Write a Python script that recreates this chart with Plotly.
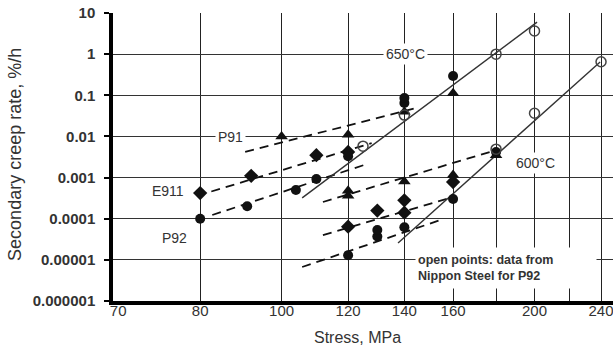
import math
import plotly.graph_objects as go

# Secondary creep rate (%/h) versus stress (MPa)
# P91 (triangles)
p91_650_stress = [100, 120, 140, 160]
p91_650_rate = [0.010, 0.011, 0.040, 0.112]
p91_600_stress = [120, 120, 140, 160, 180]
p91_600_rate = [0.00048, 0.00036, 0.00080, 0.00115, 0.0035]

# E911 (diamonds)
e911_650_stress = [80, 92, 110, 120]
e911_650_rate = [0.00042, 0.0011, 0.0035, 0.0042]
e911_600_stress = [120, 130, 140, 140, 160]
e911_600_rate = [0.000064, 0.000158, 0.00028, 0.00014, 0.00078]

# P92 (filled circles)
p92_650_stress = [80, 91, 104, 110, 120, 140, 140, 160]
p92_650_rate = [0.0001, 0.0002, 0.0005, 0.00092, 0.0033, 0.065, 0.086, 0.294]
p92_600_stress = [120, 130, 130, 140, 160, 180]
p92_600_rate = [0.000013, 0.000037, 0.000053, 0.000062, 0.0003, 0.0042]

# P92, Nippon Steel (open circles)
nippon_650_stress = [125, 140, 180, 200]
nippon_650_rate = [0.0058, 0.033, 1.0, 3.65]
nippon_600_stress = [180, 200, 240]
nippon_600_rate = [0.0049, 0.0365, 0.655]

# Trend lines: (stress at ends), (rate at ends)
trend_dashed = {
    "P91 650": ([90.5, 145], [0.0042, 0.05]),
    "E911 650": ([79.3, 128], [0.00036, 0.0069]),
    "P92 650": ([82.7, 126.4], [0.000123, 0.00214]),
    "P91 600": ([112, 177], [0.000255, 0.0042]),
    "E911 600": ([112, 158.6], [0.00004, 0.00032]),
    "P92 600": ([105.8, 155.7], [0.0000067, 0.000098]),
}
trend_solid = {
    "Nippon 650": ([105.8, 201.4], [0.00032, 6.0]),
    "Nippon 600": ([137.6, 239.4], [0.0000256, 0.644]),
}

# Axis ticks
x_grid = [80, 100, 120, 140, 160, 180, 200, 220, 240]
x_tick_vals = [63.9, 80, 100, 120, 140, 160, 200, 240]
x_tick_text = ["70", "80", "100", "120", "140", "160", "200", "240"]
y_tick_vals = [1e-6, 1e-5, 1e-4, 1e-3, 1e-2, 1e-1, 1, 10]
y_tick_text = ["0.000001", "0.00001", "0.0001", "0.001", "0.01", "0.1", "1", "10"]

FONT = "Liberation Sans, Arial, sans-serif"
INK = "#111111"

fig = go.Figure()

for name, (s, r) in trend_dashed.items():
    fig.add_trace(go.Scatter(x=s, y=r, mode="lines", name=name,
                             line=dict(color=INK, width=1.8, dash="9px,6px")))
for name, (s, r) in trend_solid.items():
    fig.add_trace(go.Scatter(x=s, y=r, mode="lines", name=name,
                             line=dict(color="#333333", width=1.4)))

def add_points(s, r, symbol, size, name):
    fig.add_trace(go.Scatter(x=s, y=r, mode="markers", name=name,
                             marker=dict(symbol=symbol, size=size, color=INK,
                                         line=dict(width=0))))

add_points(p91_650_stress, p91_650_rate, "triangle-up", 11, "P91 650")
add_points(p91_600_stress, p91_600_rate, "triangle-up", 11, "P91 600")
add_points(e911_650_stress, e911_650_rate, "diamond", 11, "E911 650")
add_points(e911_600_stress, e911_600_rate, "diamond", 11, "E911 600")
add_points(p92_650_stress, p92_650_rate, "circle", 10, "P92 650")
add_points(p92_600_stress, p92_600_rate, "circle", 10, "P92 600")

for s, r, name in [(nippon_650_stress, nippon_650_rate, "Nippon 650"),
                   (nippon_600_stress, nippon_600_rate, "Nippon 600")]:
    fig.add_trace(go.Scatter(x=s, y=r, mode="markers", name=name,
                             marker=dict(symbol="circle-open", size=10,
                                         color="#444444", line=dict(width=1.5))))

def label(text, stress, rate, size=14, **kw):
    fig.add_annotation(x=math.log10(stress), y=math.log10(rate), text=text,
                       showarrow=False, bgcolor="white", borderpad=2,
                       font=dict(family=FONT, size=size, color="#333333"), **kw)

label("P91", 87.0, 0.0097)
label("E911", 73.3, 0.00047)
label("P92", 74.5, 0.000034)
label("650°C", 140.4, 1.0)
label("600°C", 200.3, 0.00226)
fig.add_annotation(x=math.log10(144.2), y=math.log10(0.0000065),
                   xanchor="left", yanchor="middle", width=176, height=36,
                   align="left", valign="middle", showarrow=False,
                   bgcolor="white", borderpad=2,
                   text="open points: data from<br>Nippon Steel for P92",
                   font=dict(family=FONT, size=12.5, color="#333333", weight="bold"))

fig.add_annotation(xref="paper", yref="paper", x=0.489, y=-0.128,
                   xanchor="center", yanchor="middle",
                   text="Stress, MPa", showarrow=False,
                   font=dict(family=FONT, size=16, color="#333333"))
fig.add_annotation(xref="paper", yref="paper", x=-0.195, y=0.509, textangle=-90,
                   xanchor="center", yanchor="middle",
                   text="Secondary creep rate, %/h", showarrow=False,
                   font=dict(family=FONT, size=18, color="#333333"))

fig.update_layout(
    width=613, height=351,
    margin=dict(l=113, r=0, t=13, b=50),
    paper_bgcolor="white", plot_bgcolor="white",
    showlegend=False,
    font=dict(family=FONT, color="#333333"),
)
fig.update_xaxes(
    type="log", range=[math.log10(63.0), math.log10(248.0)],
    tickmode="array", tickvals=x_tick_vals, ticktext=x_tick_text,
    showgrid=False, ticks="",
    minor=dict(tickmode="array", tickvals=x_grid, showgrid=True,
               gridcolor="#222222", gridwidth=1.2, ticks=""),
    showline=True, linecolor="black", linewidth=3.5,
    tickfont=dict(family=FONT, size=15, color="#333333"),
    ticklabeloverflow="allow", ticklabelstandoff=-7,
)
fig.update_yaxes(
    type="log", range=[-6, 1],
    tickmode="array", tickvals=y_tick_vals, ticktext=y_tick_text,
    showgrid=True, gridcolor="#333333", gridwidth=1.2,
    ticks="outside", ticklen=5, tickwidth=2, tickcolor="black",
    showline=True, linecolor="black", linewidth=3.5,
    tickfont=dict(family=FONT, size=15, color="#333333", weight="bold"),
    ticklabelstandoff=6,
)

fig.write_html("out.html")
